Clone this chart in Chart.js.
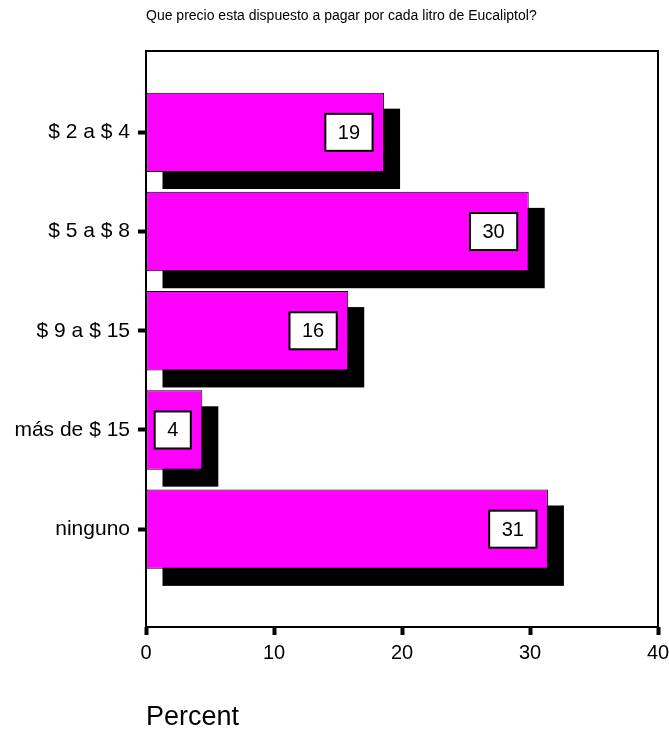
<!DOCTYPE html>
<html>
<head>
<meta charset="utf-8">
<script src="https://cdn.jsdelivr.net/npm/chart.js@4/dist/chart.umd.min.js"></script>
<style>
  html, body { margin: 0; padding: 0; background: #fff; }
  #wrap { width: 669px; height: 731px; }
</style>
</head>
<body>
<div id="wrap"><canvas id="priceChart" width="669" height="731"></canvas></div>
<script>
const chartTitle = 'Que precio esta dispuesto a pagar por cada litro de Eucaliptol?';
const categories = ['$ 2 a $ 4', '$ 5 a $ 8', '$ 9 a $ 15', 'más de $ 15', 'ninguno'];
const percents = [18.6, 29.9, 15.8, 4.4, 31.4];
const xTicks = [0, 10, 20, 30, 40];

const FONT = '"Liberation Sans", Arial, sans-serif';

// black drop shadow under each bar
const shadowPlugin = {
    id: 'shadow',
    beforeDatasetsDraw(chart) {
        const c = chart.ctx;
        const off = 16;
        c.save();
        c.fillStyle = '#000';
        chart.getDatasetMeta(0).data.forEach(bar => {
            const h = bar.height;
            c.fillRect(bar.base + off, bar.y - h / 2 + off, bar.x - bar.base, h + 1);
        });
        c.restore();
    }
};

// value boxes, frame and title
const decorPlugin = {
    id: 'decor',
    afterDatasetsDraw(chart) {
        const c = chart.ctx;
        c.save();
        c.font = '20px ' + FONT;
        c.textAlign = 'center';
        c.textBaseline = 'middle';
        chart.getDatasetMeta(0).data.forEach((bar, i) => {
            const txt = String(Math.round(percents[i]));
            const w = c.measureText(txt).width + 25;
            const h = 37;
            const right = bar.x - 11.5;
            c.fillStyle = '#fff';
            c.fillRect(right - w, bar.y - h / 2, w, h);
            c.strokeStyle = '#000';
            c.lineWidth = 2;
            c.strokeRect(right - w, bar.y - h / 2, w, h);
            c.fillStyle = '#000';
            c.fillText(txt, right - w / 2, bar.y + 1);
        });
        c.restore();
    },
    afterDraw(chart) {
        const c = chart.ctx;
        const a = chart.chartArea;
        c.save();
        c.strokeStyle = '#000';
        c.lineWidth = 2;
        c.strokeRect(a.left, a.top, a.right - a.left, a.bottom - a.top);
        c.fillStyle = '#000';
        c.font = '14px ' + FONT;
        c.textAlign = 'left';
        c.textBaseline = 'alphabetic';
        c.fillText(chartTitle, a.left, 20);
        c.restore();
    }
};

new Chart(document.getElementById('priceChart'), {
    type: 'bar',
    data: {
        datasets: [{
            data: percents.map((v, i) => ({ x: v, y: i })),
            backgroundColor: '#ff00ff',
            borderColor: '#000',
            borderWidth: 1,
            borderSkipped: false,
            barPercentage: 0.8,
            categoryPercentage: 1
        }]
    },
    options: {
        indexAxis: 'y',
        responsive: false,
        animation: false,
        layout: { padding: { top: 51, right: 11, left: 0, bottom: 0 } },
        plugins: {
            legend: { display: false },
            tooltip: { enabled: false }
        },
        scales: {
            x: {
                type: 'linear',
                min: 0,
                max: 40,
                afterFit: s => {
                    s.height = 104;
                    s.paddingLeft = 0;
                    s.paddingRight = 0;
                },
                afterBuildTicks: s => { s.ticks = xTicks.map(v => ({ value: v })); },
                grid: { drawOnChartArea: false, color: '#000', tickLength: 8, tickWidth: 4 },
                border: { display: false },
                ticks: { color: '#000', padding: 6, font: { family: FONT, size: 20 } },
                title: {
                    display: true,
                    text: 'Percent',
                    align: 'start',
                    color: '#000',
                    padding: 0,
                    font: { family: FONT, size: 27, lineHeight: 1 }
                }
            },
            y: {
                type: 'linear',
                reverse: true,
                offset: false,
                min: -0.82,
                max: 4.986,
                afterFit: s => {
                    s.width = 146;
                    s.paddingTop = 0;
                    s.paddingBottom = 0;
                },
                afterBuildTicks: s => { s.ticks = categories.map((_, i) => ({ value: i })); },
                grid: { offset: false, drawOnChartArea: false, color: '#000', tickLength: 8, tickWidth: 4 },
                border: { display: false },
                ticks: {
                    color: '#000',
                    padding: 8,
                    font: { family: FONT, size: 21 },
                    callback: v => categories[v] ?? ''
                }
            }
        }
    },
    plugins: [shadowPlugin, decorPlugin]
});
</script>
</body>
</html>
